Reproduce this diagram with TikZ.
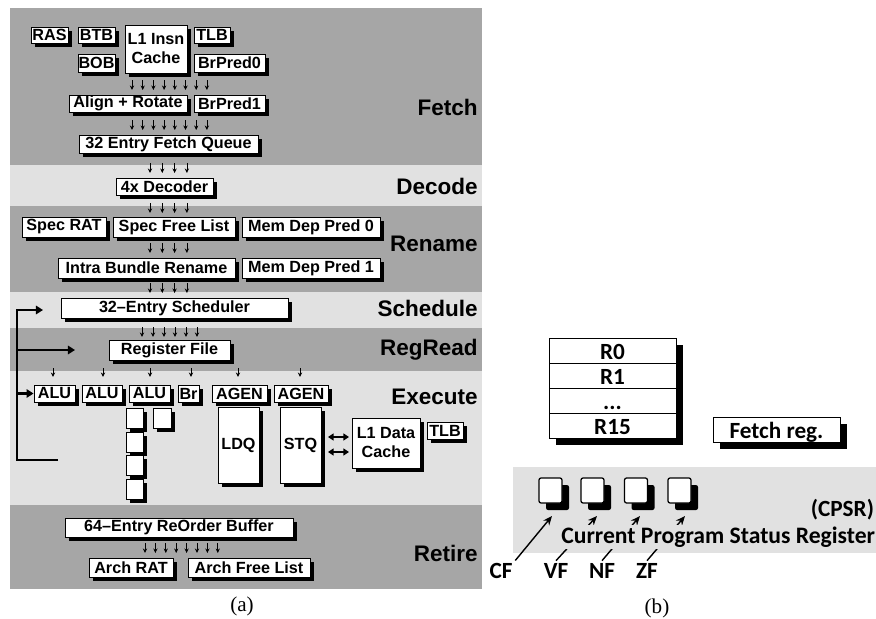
\documentclass[tikz,border=0pt]{standalone}
\usepackage{fontspec}
\setmainfont{Liberation Serif}
\newfontfamily\archfont{Liberation Sans}
\newfontfamily\slidefont{Carlito}
\usetikzlibrary{arrows.meta,shadows}
\definecolor{bandDark}{RGB}{166,166,166}
\definecolor{bandLight}{RGB}{225,225,225}

\begin{document}
\begin{tikzpicture}[x=0.025cm, y=-0.025cm, every node/.style={inner sep=0pt},
  sz/.style 2 args={minimum width=#1*0.025cm, minimum height=#2*0.025cm},
  unit/.style={draw, line width=0.6pt, fill=white, align=center,
    font=\archfont\bfseries\fontsize{11.5}{13.5}\selectfont,
    drop shadow={shadow xshift=2.5pt, shadow yshift=-2.5pt, fill=black, opacity=1}},
  stage/.style={anchor=east, font=\archfont\bfseries\fontsize{16}{18}\selectfont},
  bus/.style={line width=0.5pt, -{Stealth[length=3.2pt, width=3pt]}},
  fbarrow/.style={line width=1.8pt, -{Triangle[length=5pt, width=6pt]}},
  dblarrow/.style={line width=1.4pt, {Triangle[length=4pt, width=5pt]}-{Triangle[length=4pt, width=5pt]}},
  regrow/.style={draw, line width=0.6pt, fill=white, sz={127}{25}, text height=15pt, text depth=2pt,
    font=\slidefont\bfseries\fontsize{16.5}{18}\selectfont},
  flag/.style={draw, line width=0.9pt, fill=white, rounded corners=1.5pt, sz={23}{25},
    drop shadow={shadow xshift=5pt, shadow yshift=-5pt, fill=black, opacity=1}},
  flaglbl/.style={outer sep=2pt, font=\slidefont\bfseries\fontsize{16.5}{18}\selectfont},
  flagarrow/.style={line width=1pt, -{Stealth[length=6.5pt, width=5.5pt]}},
  caption/.style={font=\fontsize{15}{17}\selectfont}]
\useasboundingbox (0,0) rectangle (876,619);

% (a) pipeline stages
\fill[bandDark] (10,8) rectangle (482,165);
\fill[bandLight] (10,165) rectangle (482,206);
\fill[bandDark] (10,206) rectangle (482,292);
\fill[bandLight] (10,292) rectangle (482,328);
\fill[bandDark] (10,328) rectangle (482,371);
\fill[bandLight] (10,371) rectangle (482,505);
\fill[bandDark] (10,505) rectangle (482,589);

\node[stage] (fetch) at (478,107) {Fetch};
\node[stage] (decode) at (478,186) {Decode};
\node[stage] (rename) at (478,244) {Rename};
\node[stage] (schedule) at (478,308) {Schedule};
\node[stage] (regread) at (478,350) {RegRead};
\node[stage] (execute) at (478,397) {Execute};
\node[stage] (retire) at (478,553) {Retire};

% fetch
\node[unit,sz={37}{16}] (ras) at (49.5,35) {RAS};
\node[unit,sz={37}{16}] (btb) at (96.5,35) {BTB};
\node[unit,sz={62}{48}] (icache) at (156,49) {L1 Insn\\Cache};
\node[unit,sz={36}{16}] (itlb) at (212,35) {TLB};
\node[unit,sz={37}{18}] (bob) at (96.5,63) {BOB};
\node[unit,sz={71}{18}] (bp0) at (229.5,63) {BrPred0};
\node[unit,sz={118}{17}] (align) at (128,103.5) {Align + Rotate};
\node[unit,sz={71}{17}] (bp1) at (229.5,103.5) {BrPred1};
\node[unit,sz={179}{18}] (fq) at (168.5,144) {32 Entry Fetch Queue};
\foreach \i in {0,...,7} \draw[bus] (132+\i*10.7,80) -- (132+\i*10.7,90);
\foreach \i in {0,...,7} \draw[bus] (132+\i*10.7,120) -- (132+\i*10.7,130);

% decode + rename
\node[unit,sz={97}{17}] (dec) at (164.5,186.5) {4x Decoder};
\node[unit,sz={84}{20}] (specrat) at (64,227) {Spec RAT};
\node[unit,sz={122}{20}] (specfl) at (174,227) {Spec Free List};
\node[unit,sz={138}{20}] (mdp0) at (311,227) {Mem Dep Pred 0};
\node[unit,sz={177}{20}] (ibr) at (146.5,268) {Intra Bundle Rename};
\node[unit,sz={138}{20}] (mdp1) at (311,268) {Mem Dep Pred 1};
\foreach \y in {163,203,243,283}
  \foreach \i in {0,...,3} \draw[bus] (150+\i*12.3,\y) -- (150+\i*12.3,\y+10);

% schedule + regread
\node[unit,sz={227}{20}] (sched) at (174.5,308) {32–Entry Scheduler};
\node[unit,sz={121}{20}] (rf) at (169.5,350) {Register File};
\foreach \i in {0,...,5} \draw[bus] (142+\i*11,327) -- (142+\i*11,337);

% execute
\node[unit,sz={41}{17}] (alu1) at (54.5,393.5) {ALU};
\node[unit,sz={40}{17}] (alu2) at (102,393.5) {ALU};
\node[unit,sz={41}{17}] (alu3) at (149.5,393.5) {ALU};
\node[unit,sz={21}{17}] (br) at (188.5,393.5) {Br};
\node[unit,sz={55}{17}] (agen1) at (239.5,393.5) {AGEN};
\node[unit,sz={54}{17}] (agen2) at (301,393.5) {AGEN};
\foreach \x in {53,103,150,191,238,300} \draw[bus] (\x,368) -- (\x,377);
\foreach \y/\n in {418/1,442/2,465/3,489/4} \node[unit,sz={17}{20}] (mul\n) at (134.5,\y) {};
\node[unit,sz={18}{20}] (div) at (162,418) {};
\node[unit,sz={41}{76}] (ldq) at (238.5,445) {LDQ};
\node[unit,sz={41}{76}] (stq) at (300.5,445) {STQ};
\node[unit,sz={68}{50}] (dcache) at (386,443) {L1 Data\\Cache};
\node[unit,sz={36}{17}] (dtlb) at (445,430.5) {TLB};
\draw[dblarrow] (328,437) -- (349,437);
\draw[dblarrow] (328,452) -- (349,452);

% bypass
\draw[fbarrow] (58,460) -| (17,310) -- (43,310);
\draw[fbarrow] (17,350) -- (75,350);
\draw[fbarrow] (17,393.5) -- (alu1.west);

% retire
\node[unit,sz={228}{19}] (rob) at (179,527.5) {64–Entry ReOrder Buffer};
\node[unit,sz={84}{19}] (archrat) at (131,567.5) {Arch RAT};
\node[unit,sz={122}{19}] (archfl) at (249,567.5) {Arch Free List};
\foreach \i in {0,...,7} \draw[bus] (145+\i*10.4,543) -- (145+\i*10.4,553);

\node[caption] (capa) at (242,606) {(a)};

% (b) ARM registers
\node[sz={127}{100}, fill=white, drop shadow={shadow xshift=5pt, shadow yshift=-5pt, fill=black, opacity=1}] (regstack) at (612.5,388) {};
\node[regrow] (r0) at (612.5,350.5) {R0};
\node[regrow] (r1) at (612.5,375.5) {R1};
\node[regrow] (rdots) at (612.5,400.5) {...};
\node[regrow] (r15) at (612.5,425.5) {R15};
\node[regrow, drop shadow={shadow xshift=5pt, shadow yshift=-5pt, fill=black, opacity=1}] (fetchreg) at (776.5,429.5) {Fetch reg.};

\fill[bandLight] (513,467) rectangle (876,553);
\node[flag] (cfbox) at (550.5,490.5) {};
\node[flag] (vfbox) at (592.5,490.5) {};
\node[flag] (nfbox) at (636,490.5) {};
\node[flag] (zfbox) at (679.5,490.5) {};

\node[flaglbl] (cf) at (501,571) {CF};
\node[flaglbl] (vf) at (556,571) {VF};
\node[flaglbl] (nf) at (602,571) {NF};
\node[flaglbl] (zf) at (647,571) {ZF};
\draw[flagarrow] (cf.north east) -- (552,516);
\draw[flagarrow] (vf.north) -- (597,516);
\draw[flagarrow] (nf.north) -- (640,516);
\draw[flagarrow] (zf.north) -- (685,516);

\node[flaglbl, anchor=east, outer sep=0pt] (cpsr) at (874,510) {(CPSR)};
\node[flaglbl, anchor=west, outer sep=0pt, inner sep=1pt, fill=bandLight, font=\slidefont\bfseries\fontsize{16.8}{18}\selectfont] (cpsrname) at (560,537) {Current Program Status Register};

\node[caption] (capb) at (657,608) {(b)};
\end{tikzpicture}
\end{document}
